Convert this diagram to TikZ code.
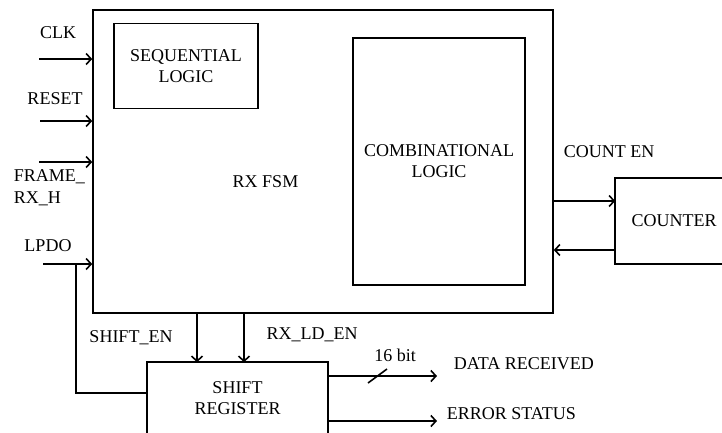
\documentclass[tikz,border=0pt]{standalone}
\usepackage{fontspec}
\setmainfont{Liberation Serif}
\usetikzlibrary{arrows.meta,calc}
\begin{document}
\begin{tikzpicture}[x=1pt,y=-1pt,
  line width=1.6pt,
  txt/.style={font=\fontsize{18}{21}\selectfont, inner sep=0pt, align=center},
  blk/.style={draw, rectangle, inner sep=0pt, font=\fontsize{18}{21}\selectfont, align=center},
  openblk/.style={rectangle, inner sep=0pt, font=\fontsize{18}{21}\selectfont, align=center},
  arr/.style={-{Straight Barb[length=5pt,width=11pt,line width=1.6pt]}}
]
\useasboundingbox (0,0) rectangle (722,432);

% blocks
\node[blk, minimum width=460pt, minimum height=303pt] (fsm) at (323,161.5) {};
\node[txt] (fsmlabel) at (265.5,182) {RX FSM};
\node[blk, minimum width=144pt, minimum height=85pt] (seq) at (186,66) {SEQUENTIAL\\LOGIC};
\node[blk, minimum width=172pt, minimum height=247pt] (comb) at (439,161.5) {COMBINATIONAL\\LOGIC};
\node[openblk, minimum width=106pt, minimum height=84pt] (counter) at (669,221) {\hspace*{10pt}COUNTER};
\draw (counter.north east) -- (counter.north west) -- (counter.south west) -- (counter.south east);
\node[openblk, minimum width=179pt, minimum height=71pt] (shift) at (237.5,398.5) {SHIFT\\REGISTER};
\draw (shift.south west) -- (shift.north west) -- (shift.north east) -- (shift.south east);

% input labels
\node[txt] (clk) at (58,33) {CLK};
\node[txt] (reset) at (55,99) {RESET};
\node[txt, anchor=west] (frame1) at (13,177) {FRAME\_};
\node[txt, anchor=west] (frame2) at (13,199) {RX\_H};
\node[txt] (lpdo) at (48,246) {LPDO};

% input arrows
\coordinate (clkin) at (39,59);
\coordinate (resetin) at (40,121);
\coordinate (framein) at (39,162);
\coordinate (lpdoin) at (43,264);
\draw[arr] (clkin) -- (clkin -| fsm.west);
\draw[arr] (resetin) -- (resetin -| fsm.west);
\draw[arr] (framein) -- (framein -| fsm.west);
\draw[arr] (lpdoin) -- (lpdoin -| fsm.west);
\coordinate (lpdobr) at (76,264);
\coordinate (shiftin) at (148,393);
\draw (lpdobr) |- (shiftin);

% enables
\coordinate (sen) at (197,0);
\coordinate (lden) at (244,0);
\draw[arr] (fsm.south -| sen) -- (shift.north -| sen);
\draw[arr] (fsm.south -| lden) -- (shift.north -| lden);
\node[txt] (shiftenlbl) at (131,338) {SHIFT\_EN};
\node[txt] (rxldenlbl) at (312,335) {RX\_LD\_EN};

% outputs
\coordinate (dataout) at (437,376);
\coordinate (errout) at (437,421);
\draw[arr] (shift.east |- dataout) -- (dataout);
\draw[arr] (shift.east |- errout) -- (errout);
\coordinate (slashA) at (368,383);
\coordinate (slashB) at (387,369);
\draw (slashA) -- (slashB);
\node[txt] (bits) at (395,355) {16 bit};
\node[txt, anchor=west] (datalbl) at (453,364) {DATA RECEIVED};
\node[txt, anchor=west] (errlbl) at (446,414) {ERROR STATUS};

% counter
\coordinate (cnten) at (0,201);
\coordinate (cntback) at (0,250);
\draw[arr] (fsm.east |- cnten) -- (counter.west |- cnten);
\draw[arr] (counter.west |- cntback) -- (fsm.east |- cntback);
\node[txt] (countenlbl) at (609,152) {COUNT EN};
\end{tikzpicture}
\end{document}
